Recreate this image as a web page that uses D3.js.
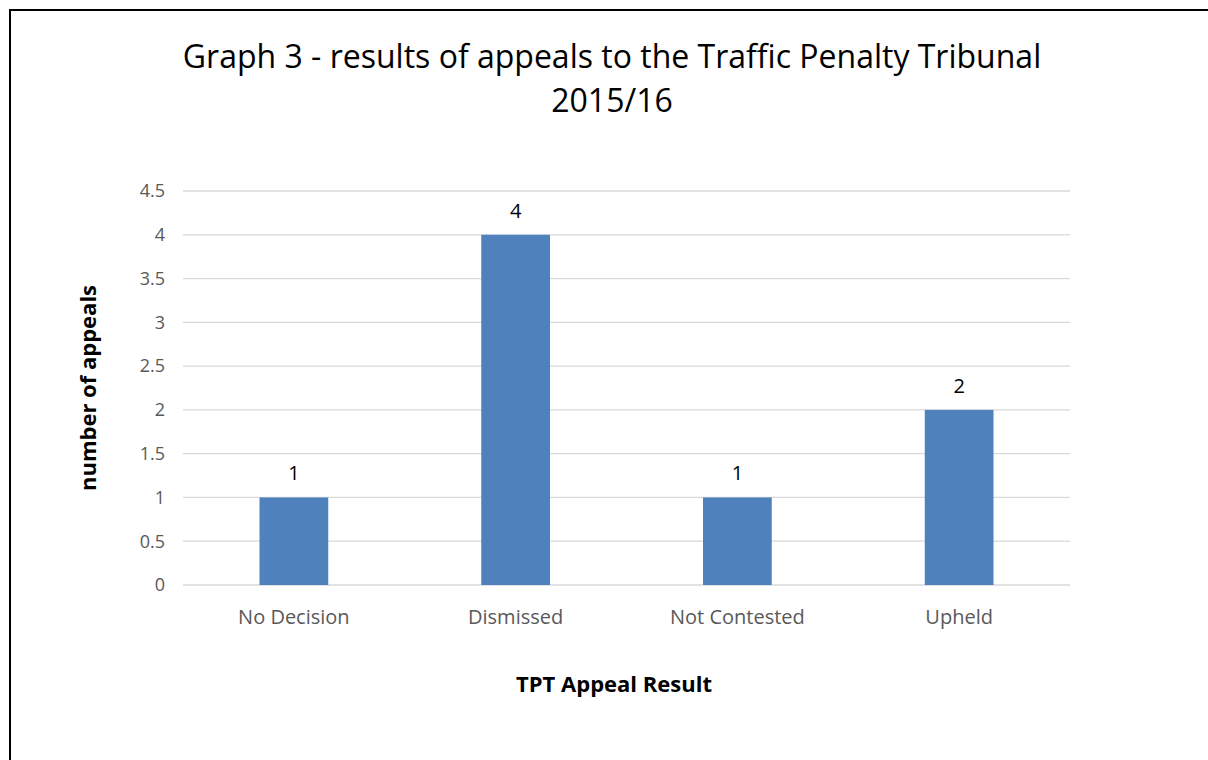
<!DOCTYPE html>
<html>
<head>
<meta charset="utf-8">
<script src="https://cdn.jsdelivr.net/npm/d3@7"></script>
<style>
  body { margin: 0; background: #fff; }
  text { font-family: "Open Sans", "Liberation Sans", sans-serif; }
</style>
</head>
<body>
<div id="chart"></div>
<script>
var categories = ["No Decision", "Dismissed", "Not Contested", "Upheld"];
var appeals = [1, 4, 1, 2];
var yTicks = [0, 0.5, 1, 1.5, 2, 2.5, 3, 3.5, 4, 4.5];
var titleLines = ["Graph 3 - results of appeals to the Traffic Penalty Tribunal", "2015/16"];

var width = 1208, height = 760;
var plot = { left: 183, right: 1070, top: 191, bottom: 585 };

var svg = d3.select("#chart").append("svg")
    .attr("width", width)
    .attr("height", height);

// outer frame, runs off the right and bottom edge
svg.append("rect")
    .attr("x", 10).attr("y", 10)
    .attr("width", 1220).attr("height", 800)
    .attr("fill", "none")
    .attr("stroke", "#000")
    .attr("stroke-width", 2);

var x = d3.scaleBand()
    .domain(categories)
    .range([plot.left, plot.right])
    .padding(0);

var y = d3.scaleLinear()
    .domain([0, 4.5])
    .range([plot.bottom, plot.top]);

var barW = x.bandwidth() * 0.31;

// gridlines
svg.append("g").selectAll("line")
    .data(yTicks)
  .enter().append("line")
    .attr("x1", plot.left).attr("x2", plot.right)
    .attr("y1", function(d) { return y(d); })
    .attr("y2", function(d) { return y(d); })
    .attr("stroke", "#d9d9d9")
    .attr("stroke-width", 1.3);

// y tick labels
svg.append("g").selectAll("text")
    .data(yTicks)
  .enter().append("text")
    .attr("x", 165)
    .attr("y", function(d) { return y(d); })
    .attr("dy", "0.35em")
    .attr("text-anchor", "end")
    .attr("fill", "#595959")
    .style("font-size", "18px")
    .text(function(d) { return d; });

// bars
svg.append("g").selectAll("rect")
    .data(appeals)
  .enter().append("rect")
    .attr("x", function(d, i) { return x(categories[i]) + x.bandwidth() / 2 - barW / 2; })
    .attr("y", function(d) { return y(d); })
    .attr("width", barW)
    .attr("height", function(d) { return y(0) - y(d); })
    .attr("fill", "#4f81bd");

// value labels
svg.append("g").selectAll("text")
    .data(appeals)
  .enter().append("text")
    .attr("x", function(d, i) { return x(categories[i]) + x.bandwidth() / 2; })
    .attr("y", function(d) { return y(d) - 17; })
    .attr("text-anchor", "middle")
    .attr("fill", "#000")
    .style("font-size", "20px")
    .text(function(d) { return d; });

// category labels
svg.append("g").selectAll("text")
    .data(categories)
  .enter().append("text")
    .attr("x", function(d) { return x(d) + x.bandwidth() / 2; })
    .attr("y", 624)
    .attr("text-anchor", "middle")
    .attr("fill", "#595959")
    .style("font-size", "20px")
    .text(function(d) { return d; });

// title
svg.append("g").selectAll("text")
    .data(titleLines)
  .enter().append("text")
    .attr("x", 612)
    .attr("y", function(d, i) { return 68 + i * 44; })
    .attr("text-anchor", "middle")
    .attr("fill", "#000")
    .style("font-size", "32px")
    .text(function(d) { return d; });

// axis titles
svg.append("text")
    .attr("x", 614).attr("y", 692)
    .attr("text-anchor", "middle")
    .attr("fill", "#000")
    .style("font-size", "22px")
    .style("font-weight", "bold")
    .text("TPT Appeal Result");

svg.append("text")
    .attr("transform", "translate(96,388) rotate(-90)")
    .attr("text-anchor", "middle")
    .attr("fill", "#000")
    .style("font-size", "22px")
    .style("font-weight", "bold")
    .text("number of appeals");
</script>
</body>
</html>
